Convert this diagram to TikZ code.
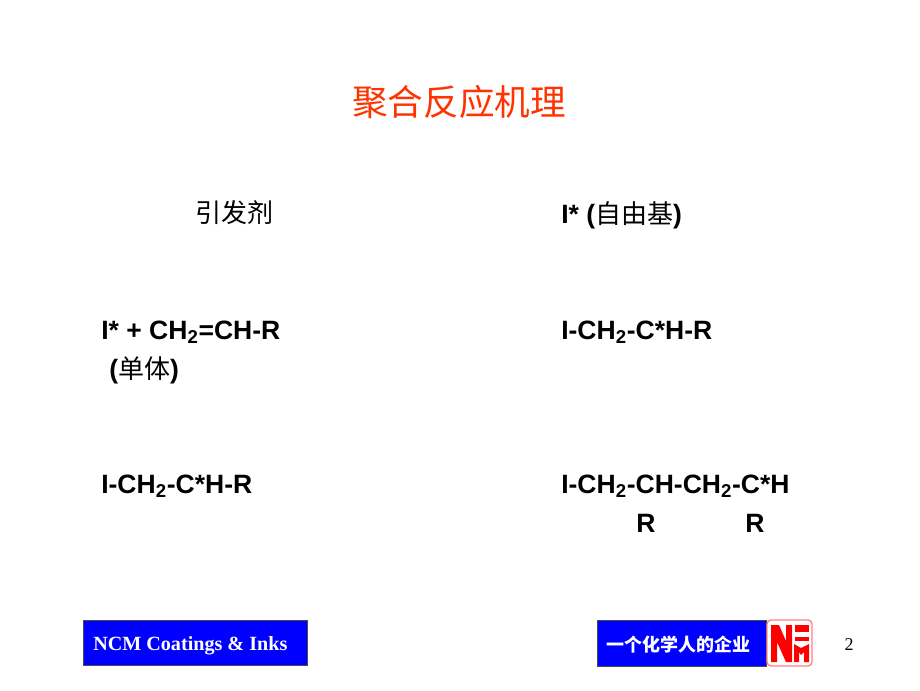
\documentclass[tikz,border=0pt]{standalone}
\usepackage{fontspec}
\setmainfont{Liberation Sans}
\newfontfamily\cjk{Noto Sans CJK SC}
\newfontfamily\serifrm{Liberation Serif}
\definecolor{titlered}{HTML}{FF3300}
\definecolor{barblue}{HTML}{0000FF}
\definecolor{logored}{HTML}{FF0000}
\begin{document}
\begin{tikzpicture}[x=0.75pt,y=-0.75pt,
    chem/.style={anchor=base west,inner sep=0pt,font=\fontsize{19.9}{22}\selectfont\bfseries},
    han/.style={anchor=base west,inner sep=0pt,font=\fontsize{19.5}{22}\cjk},
    bar/.style={draw=black!70,line width=0.5pt,fill=barblue}]
  \useasboundingbox (0,0) rectangle (920,690);
  \fill[white] (0,0) rectangle (920,690);
  \node[anchor=base,inner sep=0pt,text=titlered,font=\fontsize{26.7}{30}\cjk] (title) at (459,115) {聚合反应机理};
  \node[han] (initiator) at (195,222) {引发剂};
  \node[chem] (radical) at (561,223) {I* ({\cjk\mdseries\fontsize{19.5}{22}\selectfont 自由基})};
  \node[chem] (addleft) at (101,339) {I* + CH$_{\mathbf{2}}$=CH-R};
  \node[chem] (monomer) at (109,378) {({\cjk\mdseries\fontsize{19.5}{22}\selectfont 单体})};
  \node[chem] (addright) at (561,339) {I-CH$_{\mathbf{2}}$-C*H-R};
  \node[chem] (growleft) at (101,493) {I-CH$_{\mathbf{2}}$-C*H-R};
  \node[chem] (growright) at (561,493) {I-CH$_{\mathbf{2}}$-CH-CH$_{\mathbf{2}}$-C*H};
  \node[chem] (sidea) at (636,532) {R};
  \node[chem] (sideb) at (745,532) {R};
  \node[bar,minimum width=168pt,minimum height=33.75pt,inner sep=0pt,anchor=north west] (leftbar) at (83,620) {};
  \node[anchor=base west,inner sep=0pt,text=white,font=\fontsize{15.1}{18}\serifrm\bfseries] (company) at (93,650) {NCM Coatings \& Inks};
  \node[bar,minimum width=127pt,minimum height=34.5pt,inner sep=0pt,anchor=north west] (rightbar) at (597,620) {};
  \node[anchor=base west,inner sep=0pt,text=white,font=\fontsize{13.5}{16}\cjk\bfseries] (slogan) at (606,651) {一个化学人的企业};
  % logo
  \draw[logored!50,line width=1pt,rounded corners=3pt,fill=white] (767,620) rectangle (812,666);
  \fill[logored] (771,625) -- (779,625) -- (786,641) -- (786,625) -- (792,625) -- (792,662) -- (786,662) -- (777,642) -- (777,662) -- (771,662) -- cycle;
  \fill[logored] (795,625) -- (809,625) -- (809,632) -- (795,632) -- cycle;
  \fill[logored] (795,637) -- (809,637) -- (809,641) -- (795,641) -- cycle;
  \fill[logored] (794,644) -- (801,648) -- (809,644) -- (809,662) -- (804,662) -- (804,652) -- (801,655) -- (799,652) -- (799,662) -- (794,662) -- cycle;
  \node[anchor=base,inner sep=0pt,font=\fontsize{13.5}{16}\serifrm] (page) at (849,650) {2};
\end{tikzpicture}
\end{document}
